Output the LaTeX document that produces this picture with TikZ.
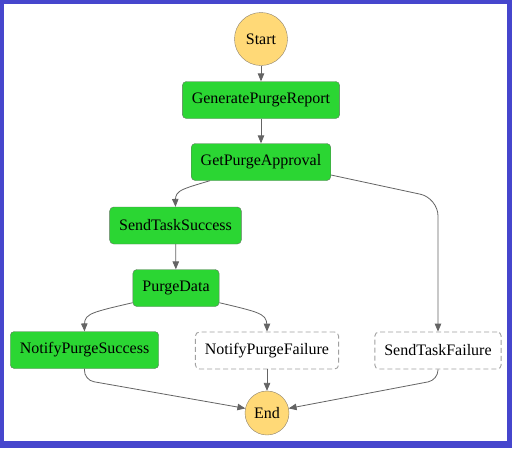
\documentclass[tikz,border=0pt]{standalone}
\usepackage{fontspec}
\setmainfont{Liberation Serif}
\usepackage{tikz}
\usetikzlibrary{arrows}

\definecolor{taskgreen}{RGB}{43,214,51}
\definecolor{taskborder}{RGB}{95,120,95}
\definecolor{termyellow}{RGB}{255,217,119}
\definecolor{termborder}{RGB}{140,130,110}
\definecolor{dashgray}{RGB}{160,160,160}
\definecolor{edgegray}{RGB}{100,100,100}
\definecolor{frameblue}{RGB}{70,70,205}

\begin{document}
\begin{tikzpicture}[->, >=triangle 45, x = 1pt, y = -1pt, font = \fontsize{16}{18}\selectfont]
  \tikzstyle{task}     = [draw = taskborder, fill = taskgreen, rounded corners = 4pt, minimum height = 37pt, inner xsep = 9.5pt]
  \tikzstyle{skipped}  = [task, draw = dashgray, fill = white, line width = 0.9pt, dash pattern = on 5pt off 3pt]
  \tikzstyle{terminal} = [draw = termborder, fill = termyellow, shape = circle, inner sep = 0pt]
  \tikzstyle{flow}     = [draw = edgegray, line width = 0.8pt]

  % frame
  \useasboundingbox (0,0) rectangle (512,448);
  \fill[frameblue] (0,0) rectangle (512,448);
  \fill[white] (4,4) rectangle (507,441);

  \node[terminal, minimum size = 53pt] (Start)      at (261,39)    {Start};
  \node[task]                          (Report)     at (261,100)   {GeneratePurgeReport};
  \node[task]                          (Approval)   at (261,162)   {GetPurgeApproval};
  \node[task]                          (Success)    at (175.5,225.5) {SendTaskSuccess};
  \node[task]                          (Purge)      at (176,288)   {PurgeData};
  \node[task]                          (NotifyOk)   at (84.5,350)  {NotifyPurgeSuccess};
  \node[skipped]                       (NotifyFail) at (267,350.5) {NotifyPurgeFailure};
  \node[skipped]                       (TaskFail)   at (438,350.5) {SendTaskFailure};
  \node[terminal, minimum size = 44pt] (End)        at (267,413)   {End};

  \path (Start)      edge [flow] (Report)
        (Report)     edge [flow] (Approval)
        (Success)    edge [flow] (Purge)
        (NotifyFail) edge [flow] (End);

  % branches
  \draw[flow] ([xshift = -51pt]Approval.south) .. controls (175,191) .. (Success.north);
  \draw[flow, rounded corners = 18pt] ([yshift = -13pt]Approval.east) -- (438,198) -- (TaskFail.north);
  \draw[flow] ([yshift = 4pt]Purge.south west) .. controls (84,314) .. (NotifyOk.north);
  \draw[flow] ([yshift = 4pt]Purge.south east) .. controls (267,314) .. (NotifyFail.north);

  % to the end
  \draw[flow, rounded corners = 10pt] (NotifyOk.south) -- (84,380) -- (End.168);
  \draw[flow, rounded corners = 10pt] (TaskFail.south) -- (438,380) -- (End.12);

\end{tikzpicture}
\end{document}
